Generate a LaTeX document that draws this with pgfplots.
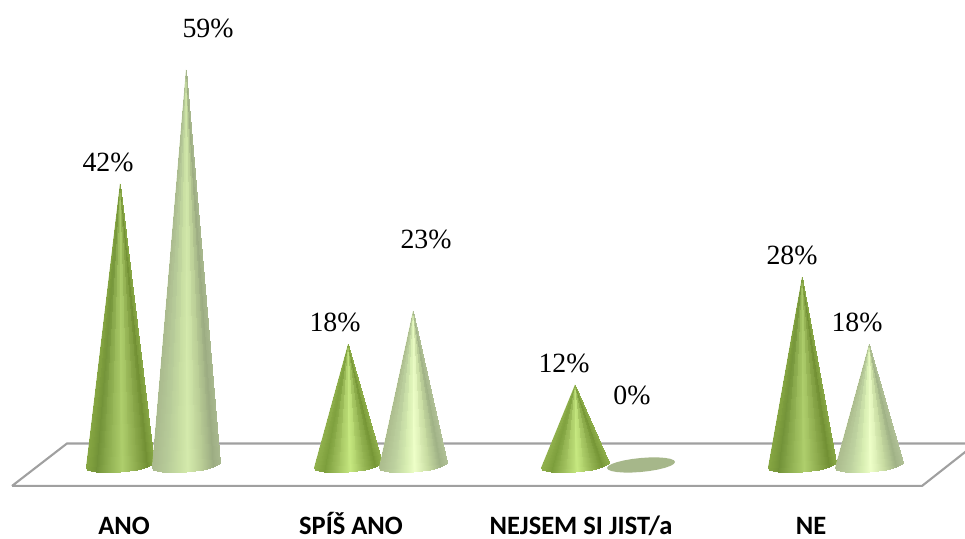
\documentclass[border=0pt]{standalone}
\usepackage{pgfplots}
\usepackage{pgfplotstable}
\usepackage{fontspec}
\setmainfont{Liberation Serif}
\newfontfamily\catfont{Carlito}
\pgfplotsset{compat=1.18}

\definecolor{floorline}{HTML}{A0A0A0}
\definecolor{flatdisc}{HTML}{A6B78A}
% ground colour laid under each fan of triangles
\definecolor{greenTallBase}{RGB}{140,170,78}
\definecolor{greenShortBase}{RGB}{150,182,86}
\definecolor{paleTallBase}{RGB}{186,206,152}
\definecolor{paleShortBase}{RGB}{198,218,162}

% colour profiles across the width of a cone, left edge to right edge
\pgfplotsset{
  colormap={greenTall}{
    rgb255(0pt)=(134,166,66)
    rgb255(15pt)=(114,146,56)
    rgb255(32pt)=(142,174,80)
    rgb255(53pt)=(174,206,108)
    rgb255(72pt)=(144,174,80)
    rgb255(90pt)=(114,144,52)
    rgb255(100pt)=(136,168,70)},
  colormap={greenShort}{
    rgb255(0pt)=(144,176,76)
    rgb255(15pt)=(124,158,60)
    rgb255(32pt)=(156,188,90)
    rgb255(53pt)=(198,232,128)
    rgb255(72pt)=(154,186,88)
    rgb255(90pt)=(118,150,54)
    rgb255(100pt)=(142,174,74)},
  colormap={paleTall}{
    rgb255(0pt)=(170,186,142)
    rgb255(20pt)=(182,202,152)
    rgb255(40pt)=(200,222,162)
    rgb255(52pt)=(212,234,172)
    rgb255(72pt)=(186,206,150)
    rgb255(90pt)=(156,172,130)
    rgb255(100pt)=(168,184,142)},
  colormap={paleShort}{
    rgb255(0pt)=(172,188,142)
    rgb255(20pt)=(188,208,158)
    rgb255(40pt)=(216,238,178)
    rgb255(52pt)=(238,255,200)
    rgb255(72pt)=(200,220,162)
    rgb255(90pt)=(160,178,134)
    rgb255(100pt)=(176,192,150)},
}

% cone surface as triangles fanning out of the apex: dx and dy are offsets
% from the base centre, apex marks the corner that rises to the value,
% t is the position in the colour profile
\pgfplotstableread{
dx      dy     apex  t
0.00    0.00   1     0.008
-34.00 -3.00   0     0.000
-32.84 -4.71   0     0.017
0.00    0.00   1     0.042
-32.84 -4.71   0     0.017
-29.44 -6.10   0     0.067
0.00    0.00   1     0.106
-29.44 -6.10   0     0.067
-24.04 -7.07   0     0.146
0.00    0.00   1     0.198
-24.04 -7.07   0     0.146
-17.00 -7.56   0     0.250
0.00    0.00   1     0.310
-17.00 -7.56   0     0.250
-8.80  -7.54   0     0.371
0.00    0.00   1     0.435
-8.80  -7.54   0     0.371
0.00   -7.00   0     0.500
0.00    0.00   1     0.565
0.00   -7.00   0     0.500
8.80   -5.98   0     0.629
0.00    0.00   1     0.690
8.80   -5.98   0     0.629
17.00  -4.56   0     0.750
0.00    0.00   1     0.802
17.00  -4.56   0     0.750
24.04  -2.83   0     0.854
0.00    0.00   1     0.894
24.04  -2.83   0     0.854
29.44  -0.90   0     0.933
0.00    0.00   1     0.958
29.44  -0.90   0     0.933
32.84   1.09   0     0.983
0.00    0.00   1     0.992
32.84   1.09   0     0.983
34.00   3.00   0     1.000
}\conefan

% silhouette of a cone, used for the ground colour
\pgfplotstableread{
dx      dy     apex
34.00   3.00   0
32.84   1.09   0
29.44  -0.90   0
24.04  -2.83   0
17.00  -4.56   0
8.80   -5.98   0
0.00   -7.00   0
-8.80  -7.54   0
-17.00 -7.56   0
-24.04 -7.07   0
-29.44 -6.10   0
-32.84 -4.71   0
-34.00 -3.00   0
0.00    0.00   1
}\coneoutline

% base disc drawn for a zero value
\pgfplotstableread{
dx      dy
34.00   3.00
32.84   1.09
29.44  -0.90
24.04  -2.83
17.00  -4.56
8.80   -5.98
0.00   -7.00
-8.80  -7.54
-17.00 -7.56
-24.04 -7.07
-29.44 -6.10
-32.84 -4.71
-34.00 -3.00
-32.84 -1.09
-29.44  0.90
-24.04  2.83
-17.00  4.56
-8.80   5.98
0.00    7.00
8.80    7.54
17.00   7.56
24.04   7.07
29.44   6.10
32.84   4.71
34.00   3.00
}\flatdiscoutline

% #1 centre, #2 value, #3 colour profile, #4 label x, #5 label y
\newcommand{\cone}[5]{%
  \addplot[fill=#3Base, draw=none, forget plot]
    table[x expr=#1+\thisrow{dx}, y expr=\thisrow{dy}/6.7+\thisrow{apex}*#2] {\coneoutline};
  \addplot[patch, patch type=triangle, shader=interp, colormap name=#3,
           point meta=explicit, forget plot]
    table[x expr=#1+\thisrow{dx}, y expr=\thisrow{dy}/6.7+\thisrow{apex}*#2,
          meta=t] {\conefan};
  \node[font=\valuefont] at (axis cs:#4,#5) {#2\%};
}
\newcommand{\valuefont}{\fontsize{27.8}{30}\selectfont}
\newcommand{\catlabel}[2]{%
  \node[anchor=base, inner sep=0pt, font=\catfont\bfseries\fontsize{26.5}{28}\selectfont] at (axis cs:#1,-10.4) {#2};
}

\begin{document}
\begin{tikzpicture}
\begin{axis}[
  scale only axis, width=965pt, height=538pt,
  xmin=0, xmax=965, ymin=-10.9, ymax=69.4,
  point meta min=0, point meta max=1,
  hide axis, clip=true,
]
\path (rel axis cs:0,0) rectangle (rel axis cs:1,1);

% floor plate
\addplot[draw=floorline, line width=2.1pt, fill=white, line join=miter, forget plot]
  coordinates {(12,-3.13) (922,-3.13) (976,3.21) (67,3.21) (12,-3.13)};

\cone{120}{42}{greenTall}{108}{45.1}
\cone{186}{59}{paleTall}{208}{65.2}
\cone{348}{18}{greenShort}{335}{21.2}
\cone{413}{23}{paleShort}{426}{33.6}
\cone{575}{12}{greenShort}{564}{15.1}

\addplot[fill=flatdisc, draw=none, forget plot]
  table[x expr=641+\thisrow{dx}, y expr=\thisrow{dy}/6.7] {\flatdiscoutline};
\node[font=\valuefont] at (axis cs:632,10.4) {0\%};

\cone{802}{28}{greenTall}{792}{31.2}
\cone{869}{18}{paleShort}{857}{21.2}

\catlabel{124}{ANO}
\catlabel{351}{SPÍŠ ANO}
\catlabel{581}{NEJSEM SI JIST/a}
\catlabel{811}{NE}
\end{axis}
\end{tikzpicture}
\end{document}
